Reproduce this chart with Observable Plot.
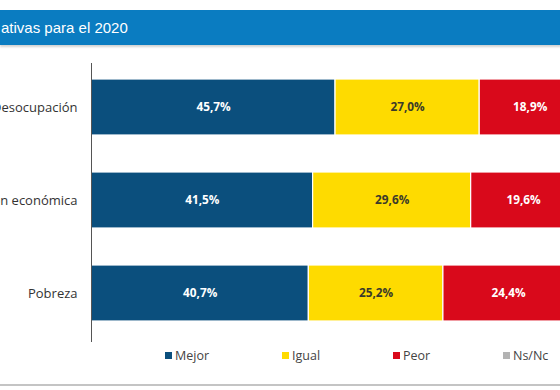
<!DOCTYPE html>
<html>
<head>
<meta charset="utf-8">
<script src="https://cdn.jsdelivr.net/npm/d3@7"></script>
<script src="https://cdn.jsdelivr.net/npm/@observablehq/plot@0.6"></script>
<style>
  html, body { margin: 0; padding: 0; background: #fff; }
  #wrap { position: relative; width: 560px; height: 390px; overflow: hidden; background: #fff; }
  #header { position: absolute; left: 0; top: 10px; width: 560px; height: 35px; background: #0a7cc1;
            color: #fff; font: 15px "Liberation Sans", Arial, sans-serif; line-height: 35px; padding-left: 1px;
            box-shadow: 0 2px 2px rgba(0,0,0,0.18); z-index: 2; }
  #chart { position: absolute; left: 0; top: 0; }
  #chart svg { overflow: hidden; }
  #legend { position: absolute; left: 0; top: 347px; width: 560px; height: 20px;
            font: 12.5px "Open Sans", sans-serif; color: #444; }
  .item { position: absolute; top: 0; line-height: 18px; white-space: nowrap; }
  .sw { display: inline-block; width: 7px; height: 7px; margin-right: 3px; vertical-align: 1px; }
  #bottomline { position: absolute; left: 0; top: 384px; width: 560px; height: 2px; background: #c4c4c4; }
</style>
</head>
<body>
<div id="wrap">
  <div id="chart"></div>
  <div id="header"></div>
  <div id="legend"></div>
  <div id="bottomline"></div>
</div>
<script>
const title = "ativas para el 2020";
const categories = ["Desocupación", "Situación económica", "Pobreza"];
const responses = ["Mejor", "Igual", "Peor", "Ns/Nc"];
const mejor = [45.7, 41.5, 40.7];
const igual = [27.0, 29.6, 25.2];
const peor  = [18.9, 19.6, 24.4];
const nsnc  = [8.4, 9.3, 9.7];
const colors = ["#0b4f7d", "#fedb00", "#d9091b", "#b3b3b3"];
const textColors = ["#ffffff", "#3a3a2a", "#ffffff", "#ffffff"];
const legendX = [165, 282, 393, 503];

const series = [mejor, igual, peor, nsnc];
const data = [];
categories.forEach((c, i) => {
  responses.forEach((r, j) => data.push({cat: c, resp: r, value: series[j][i], ri: j}));
});

document.getElementById("header").textContent = title;

const fmt = v => v.toFixed(1).replace(".", ",") + "%";

const plot = Plot.plot({
  width: 560,
  height: 390,
  marginLeft: 91,
  marginRight: 0,
  marginTop: 63,
  marginBottom: 48,
  style: {background: "transparent", overflow: "hidden"},
  x: {domain: [0, 100], range: [91, 625], axis: null},
  y: {domain: categories, range: [40.6, 358.5], padding: 0.4, label: null},
  color: {domain: responses, range: colors},
  marks: [
    Plot.barX(data, Plot.stackX({x: "value", y: "cat", fill: "resp", order: responses, stroke: "#fff", strokeWidth: 1.2})),
    Plot.text(data, Plot.stackX({
      x: "value", y: "cat", z: "resp", order: responses,
      text: d => d.resp === "Ns/Nc" ? "" : fmt(d.value),
      fill: d => textColors[d.ri],
      fontWeight: "bold", fontSize: 11.8, fontFamily: "Open Sans, sans-serif"
    })),
    Plot.ruleX([0], {stroke: "#555", strokeWidth: 1}),
    Plot.axisY({tickSize: 0, tickPadding: 14, fontSize: 13, fontFamily: "Open Sans, sans-serif", fill: "#333", label: null})
  ]
});
document.getElementById("chart").appendChild(plot);

const legend = document.getElementById("legend");
responses.forEach((r, j) => {
  const it = document.createElement("div");
  it.className = "item";
  it.style.left = legendX[j] + "px";
  it.innerHTML = `<span class="sw" style="background:${colors[j]}"></span>${r}`;
  legend.appendChild(it);
});
</script>
</body>
</html>
